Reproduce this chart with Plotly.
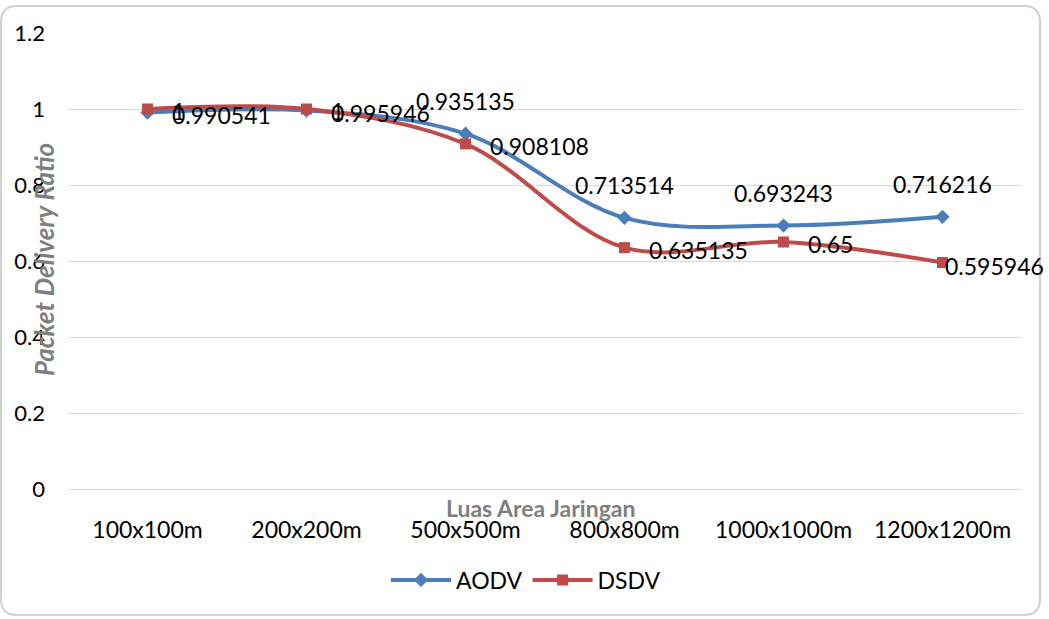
import plotly.graph_objects as go

categories = ["100x100m", "200x200m", "500x500m", "800x800m", "1000x1000m", "1200x1200m"]
aodv = [0.990541, 0.995946, 0.935135, 0.713514, 0.693243, 0.716216]
dsdv = [1, 1, 0.908108, 0.635135, 0.65, 0.595946]
aodv_label_side = ["right", "right", "top", "top", "top", "top"]
dsdv_label_side = ["right", "right", "right", "right", "right", "over"]
y_ticks = [0, 0.2, 0.4, 0.6, 0.8, 1, 1.2]
y_tick_labels = ["0", "0.2", "0.4", "0.6", "0.8", "1", "1.2"]

W, H = 1049, 619
L, R, T, B = 68, 27, 33, 130
pw, ph = W - L - R, H - T - B

def px(x):
    return (x - L) / pw

def py(y):
    return (H - B - y) / ph

FONT = "Lato, 'Open Sans', sans-serif"
blue = "#4a7ebb"
red = "#be4b48"

fig = go.Figure()
fig.add_trace(go.Scatter(
    x=categories, y=aodv, name="AODV", mode="lines+markers",
    line=dict(color=blue, width=4, shape="spline", smoothing=1),
    marker=dict(symbol="diamond", size=11, color=blue),
))
fig.add_trace(go.Scatter(
    x=categories, y=dsdv, name="DSDV", mode="lines+markers",
    line=dict(color=red, width=4, shape="spline", smoothing=1),
    marker=dict(symbol="square", size=11, color=red),
))

# data labels
for vals, sides in ((aodv, aodv_label_side), (dsdv, dsdv_label_side)):
    for c, v, s in zip(categories, vals, sides):
        font = dict(size=23, color="#000000", family=FONT)
        if s == "right":
            fig.add_annotation(x=c, y=v, text=str(v), showarrow=False,
                               xanchor="left", yanchor="middle", xshift=22, yshift=-2, font=font)
        elif s == "over":
            fig.add_annotation(x=c, y=v, text=str(v), showarrow=False,
                               xanchor="left", yanchor="middle", xshift=0, yshift=-3, font=font)
        else:
            fig.add_annotation(x=c, y=v, text=str(v), showarrow=False,
                               xanchor="center", yanchor="middle", yshift=33, font=font)

# rounded border
rx, ry = 16 / pw, 16 / ph
x0, x1 = px(1), px(1040)
y0, y1 = py(615), py(6)
path = (f"M {x0+rx},{y1} L {x1-rx},{y1} Q {x1},{y1} {x1},{y1-ry} "
        f"L {x1},{y0+ry} Q {x1},{y0} {x1-rx},{y0} L {x0+rx},{y0} "
        f"Q {x0},{y0} {x0},{y0+ry} L {x0},{y1-ry} Q {x0},{y1} {x0+rx},{y1} Z")
fig.add_shape(type="path", path=path, xref="paper", yref="paper",
              line=dict(color="#d0d0d0", width=2), layer="below")

fig.add_annotation(text="<b>Luas Area Jaringan</b>", xref="paper", yref="paper",
                   x=px(540), y=py(508), xanchor="center", yanchor="middle", showarrow=False,
                   font=dict(size=23, color="#7f7f7f", family=FONT))
fig.add_annotation(text="<b><i>Packet Delivery Ratio</i></b>", xref="paper", yref="paper",
                   x=px(44), y=py(260), xanchor="center", yanchor="middle",
                   showarrow=False, textangle=-90,
                   font=dict(size=26, color="#7f7f7f", family=FONT))

fig.update_layout(
    width=W, height=H,
    margin=dict(l=L, r=R, t=T, b=B),
    paper_bgcolor="white", plot_bgcolor="white",
    font=dict(family=FONT, size=22, color="#000000"),
    showlegend=True,
    legend=dict(orientation="h", x=px(526), xanchor="center", y=py(580), yanchor="middle",
                font=dict(size=23, family=FONT), itemwidth=60),
    xaxis=dict(type="category", range=[-0.5, 5.5], showgrid=False, showline=True,
               linecolor="#d9d9d9", linewidth=1, ticks="", ticklabelstandoff=20,
               tickfont=dict(size=23, family=FONT)),
    yaxis=dict(range=[0, 1.2], tickvals=y_ticks, ticktext=y_tick_labels,
               showgrid=True, gridcolor="#d9d9d9", gridwidth=1, zeroline=False,
               showline=False, ticks="", ticklabelstandoff=22,
               tickfont=dict(size=22, family=FONT)),
)

fig.write_html("out.html", config={"displayModeBar": False},
               post_script="document.body.style.margin='0';")
